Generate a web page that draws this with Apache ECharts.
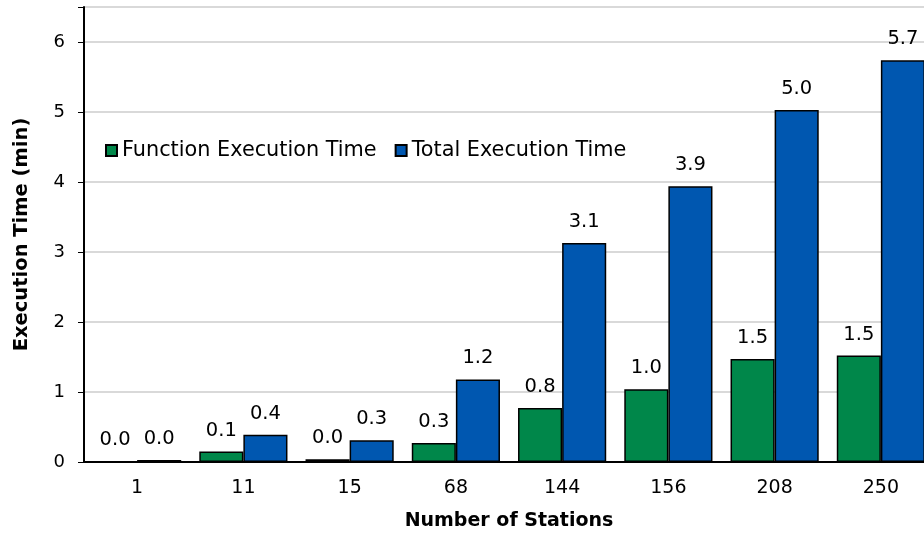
<!DOCTYPE html>
<html>
<head>
<meta charset="utf-8">
<script src="https://cdn.jsdelivr.net/npm/echarts@6/dist/echarts.min.js"></script>
<style>
  html, body { margin: 0; padding: 0; background: #fff; }
  #chart { width: 924px; height: 533px; }
</style>
</head>
<body>
<div id="chart"></div>
<script>
// Station counts and the measured execution times (minutes)
const stations = ['1', '11', '15', '68', '144', '156', '208', '250'];
const functionTime = [0.01, 0.15, 0.04, 0.27, 0.77, 1.04, 1.47, 1.52];
const totalTime = [0.03, 0.39, 0.31, 1.18, 3.13, 3.94, 5.03, 5.74];
const yTicks = [0, 1, 2, 3, 4, 5, 6];

const FONT = 'DejaVu Sans';

const chart = echarts.init(document.getElementById('chart'), null, { renderer: 'canvas' });

const barLabel = {
  show: true,
  position: 'top',
  distance: 11,
  fontFamily: FONT,
  fontSize: 19.5,
  color: '#000',
  formatter: p => p.value.toFixed(1)
};

chart.setOption({
  animation: false,
  grid: {
    left: 84,
    top: 7,
    width: 850,
    height: 455,
    containLabel: false,
    outerBoundsMode: 'none',
    show: true,
    borderColor: '#595959',
    borderWidth: 1,
    backgroundColor: 'transparent'
  },
  legend: {
    left: 105,
    top: 140,
    padding: 0,
    itemWidth: 11,
    itemHeight: 11,
    itemGap: 18,
    icon: 'rect',
    textStyle: { fontFamily: FONT, fontSize: 20.8, color: '#000' },
    data: ['Function Execution Time', 'Total Execution Time']
  },
  xAxis: {
    type: 'category',
    data: stations,
    name: 'Number of Stations',
    nameLocation: 'middle',
    nameGap: 50,
    nameTextStyle: { fontFamily: FONT, fontSize: 19, fontWeight: 'bold', color: '#000' },
    axisLine: { lineStyle: { color: '#000', width: 2 } },
    axisTick: { alignWithLabel: true, length: 6, lineStyle: { color: '#000', width: 1 } },
    axisLabel: { fontFamily: FONT, fontSize: 19, color: '#000', margin: 17 }
  },
  yAxis: {
    type: 'value',
    min: 0,
    max: 6.5,
    interval: 1,
    name: 'Execution Time (min)',
    nameLocation: 'middle',
    nameGap: 52,
    nameTextStyle: { fontFamily: FONT, fontSize: 19.5, fontWeight: 'bold', color: '#000' },
    axisLine: { show: true, lineStyle: { color: '#000', width: 2 } },
    axisTick: { show: true, length: 6, lineStyle: { color: '#000', width: 1 } },
    axisLabel: {
      fontFamily: FONT, fontSize: 18, color: '#000', margin: 19,
      formatter: v => (yTicks.includes(v) ? String(v) : '')
    },
    splitLine: { lineStyle: { color: '#d9d9d9', width: 2 } }
  },
  series: [
    {
      name: 'Function Execution Time',
      type: 'bar',
      data: functionTime,
      barGap: '0%',
      barCategoryGap: '17%',
      itemStyle: { color: '#00874a', borderColor: '#000', borderWidth: 1.5 },
      label: barLabel
    },
    {
      name: 'Total Execution Time',
      type: 'bar',
      data: totalTime,
      barGap: '0%',
      barCategoryGap: '17%',
      itemStyle: { color: '#0057b0', borderColor: '#000', borderWidth: 1.5 },
      label: barLabel
    }
  ]
});
</script>
</body>
</html>
